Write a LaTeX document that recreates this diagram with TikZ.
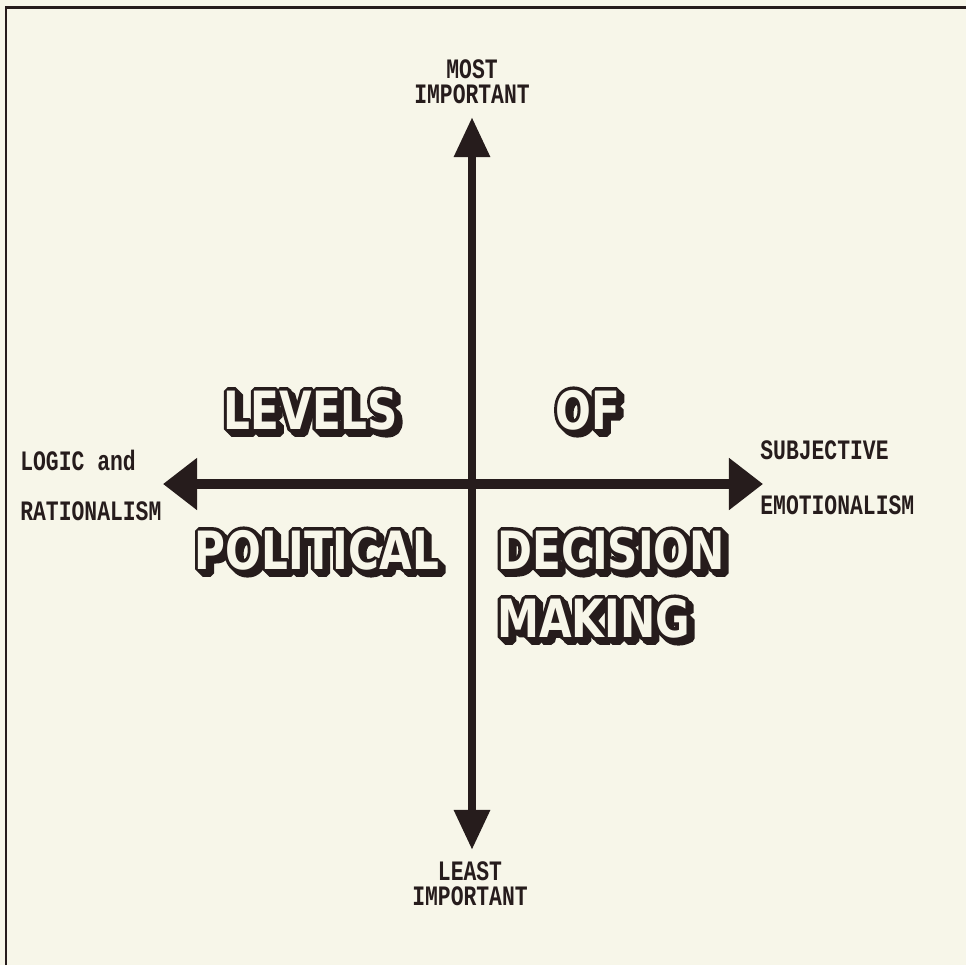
\documentclass[tikz,border=0pt]{standalone}
\usepackage{fontspec}
\usetikzlibrary{arrows.meta}
\newfontfamily\typefont[FakeStretch=0.76]{Liberation Mono}
\newfontfamily\blockink[FakeStretch=0.8,FakeBold=14,BoldFont={DejaVu Sans Bold}]{DejaVu Sans Bold}
\newfontfamily\blockcore[FakeStretch=0.8]{DejaVu Sans Bold}
\definecolor{paper}{RGB}{247,246,233}
\definecolor{ink}{RGB}{38,28,28}
% shadowed block letters: shadow, heavy outline, light core
\newcommand{\blockword}[1]{\rlap{\hspace{2.2pt}\raisebox{-2.2pt}{\blockink\textcolor{ink}{#1}}}\rlap{\blockink\textcolor{ink}{#1}}{\blockcore\textcolor{paper}{#1}}}
\tikzset{
  tag/.style={font=\typefont\bfseries\fontsize{16}{14.2}\selectfont,text=ink,inner sep=0pt,align=center},
  block/.style={font=\fontsize{30}{30}\selectfont,inner sep=0pt,line join=bevel},
  axis/.style={draw=ink,fill=ink}
}

\begin{document}
\begin{tikzpicture}[x=0.2mm,y=-0.2mm]
\useasboundingbox (0,0) rectangle (966,965);
\fill[paper] (0,0) rectangle (966,965);
\draw[ink,line width=1.7pt] (6,965)--(6,7.5)--(966,7.5);

\coordinate (top) at (472,117);
\coordinate (bottom) at (472,850);
\coordinate (left) at (163,484);
\coordinate (right) at (763,484);

\draw[axis,line width=5pt,{Triangle[length=22.8pt,width=19.4pt]}-{Triangle[length=22.8pt,width=19.4pt]}] (bottom)--(top);
\draw[axis,line width=5.7pt,{Triangle[length=19.4pt,width=28.5pt]}-{Triangle[length=19.4pt,width=28.5pt]}] (left)--(right);

\node[tag] (most) at (472,82) {MOST\\IMPORTANT};
\node[tag] (least) at (470,884) {LEAST\\IMPORTANT};
\node[tag,anchor=west] (logic) at (20,460) {LOGIC and};
\node[tag,anchor=west] (ration) at (20,511) {RATIONALISM};
\node[tag,anchor=west] (subj) at (760,450) {SUBJECTIVE};
\node[tag,anchor=west] (emot) at (760,505) {EMOTIONALISM};

\node[block] (levels) at (311,412) {\blockword{LEVELS}};
\node[block] (of) at (588,412) {\blockword{OF}};
\node[block] (political) at (317,552) {\blockword{POLITICAL}};
\node[block,anchor=west] (decision) at (497,552) {\blockword{DECISION}};
\node[block,anchor=west] (making) at (497,620) {\blockword{MAKING}};
\end{tikzpicture}
\end{document}
